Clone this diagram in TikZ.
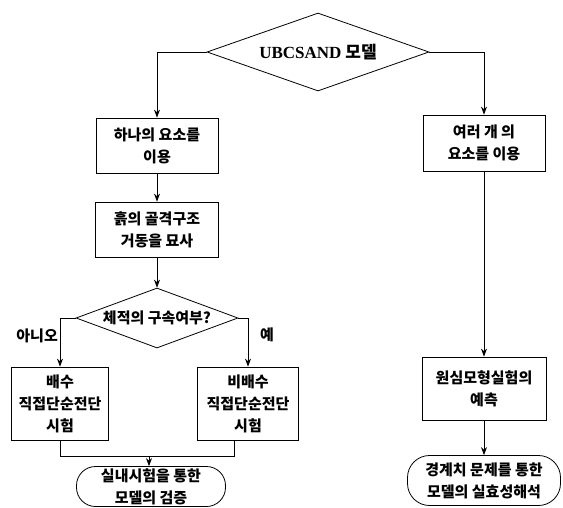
\documentclass[tikz,border=0pt]{standalone}
\usepackage{fontspec}
\setmainfont{Noto Sans CJK KR}
\newfontfamily\latinserif{Liberation Serif}
\usetikzlibrary{shapes.geometric,arrows.meta}
\tikzset{
  line/.style={line width=0.8pt},
  arr/.style={line, -{Stealth[length=8pt,width=6pt]}},
  stepbox/.style={draw, line width=0.8pt, align=center, inner sep=0pt},
  decide/.style={draw, line width=0.8pt, diamond, align=center, inner sep=0pt},
  endbox/.style={draw, line width=0.8pt, align=center, inner sep=0pt, rounded corners=19pt},
  lbl/.style={inner sep=0pt}
}
\begin{document}
\begin{tikzpicture}[x=1pt,y=-1pt,font=\fontsize{15}{22}\selectfont\bfseries]
\useasboundingbox (0,0) rectangle (563,507);
% nodes
\node[decide, aspect=2.85, minimum width=222pt, minimum height=78pt, font=\fontsize{17}{20}\selectfont\bfseries] (top) at (318,52) {{\latinserif UBCSAND} 모델};
\node[stepbox, minimum width=122pt, minimum height=55pt] (b1) at (157,145.5) {하나의 요소를\\이용};
\node[stepbox, minimum width=123pt, minimum height=55pt] (b2) at (157,229.5) {흙의 골격구조\\거동을 묘사};
\node[decide, aspect=2.7, minimum width=162pt, minimum height=60pt] (d2) at (157,318) {체적의 구속여부?};
\node[stepbox, minimum width=97pt, minimum height=73pt] (lb) at (60,403.5) {배수\\직접단순전단\\시험};
\node[stepbox, minimum width=101pt, minimum height=73pt] (rb) at (248,403.5) {비배수\\직접단순전단\\시험};
\node[endbox, minimum width=149pt, minimum height=40pt] (o1) at (151,486.5) {실내시험을 통한\\모델의 검증};
\node[stepbox, minimum width=122pt, minimum height=56pt] (r1) at (484,143) {여러 개 의\\요소를 이용};
\node[stepbox, minimum width=124pt, minimum height=63pt] (r2) at (484,388.5) {원심모형실험의\\예측};
\node[endbox, minimum width=153pt, minimum height=50pt, rounded corners=22pt] (o2) at (484,480.5) {경계치 문제를 통한\\모델의 실효성해석};
\node[lbl, anchor=east] (no) at (58,336) {아니오};
\node[lbl] (yes) at (267,335) {예};
\coordinate (m) at (149,456);
% connectors
\draw[arr] (top.west) -| (b1.north);
\draw[arr] (top.east) -| (r1.north);
\draw[arr] (b1) -- (b2);
\draw[arr] (b2) -- (d2);
\draw[arr] (d2.west) -| (lb.north);
\draw[arr] (d2.east) -| (rb.north);
\draw[line] (lb.south) |- (m);
\draw[line] ([xshift=-14pt]rb.south) |- (m);
\draw[arr] (m) -- (m |- o1.north);
\draw[arr] (r1) -- (r2);
\draw[arr] (r2) -- (o2);
\end{tikzpicture}
\end{document}
